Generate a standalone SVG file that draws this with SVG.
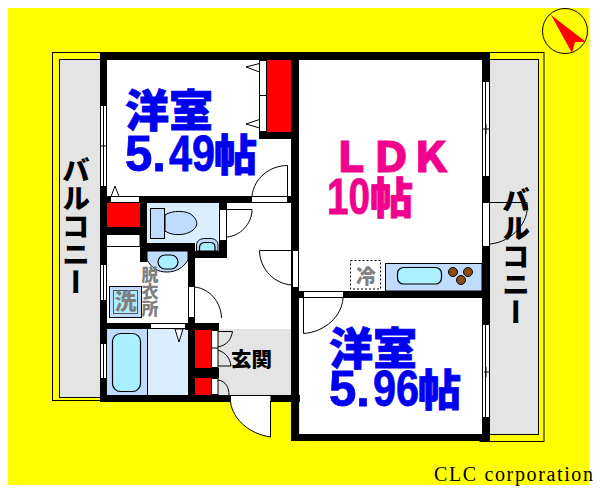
<svg xmlns="http://www.w3.org/2000/svg" width="600" height="493" viewBox="0 0 600 493">
<style>
.w{fill:#000}
.r{fill:#f00}
.l{fill:none;stroke:#000;stroke-width:1}
.wh{fill:#fff;stroke:#000;stroke-width:1}
.win{fill:#fff;stroke:#000;stroke-width:1}
.b1{fill:#bfdcff;stroke:#000;stroke-width:1}
.b2{fill:#aaf0ff;stroke:#000;stroke-width:1.2}
.t{font-family:"Noto Sans CJK JP","Noto Sans",sans-serif;font-weight:900}
.n{font-family:"Liberation Sans",sans-serif;font-weight:700;font-size:50px}
.bl{fill:#0000f0;stroke:#0000f0;stroke-width:.8px}
.mg{fill:#f0008c;stroke:#f0008c;stroke-width:.8px}
.gr{fill:#808080}
.v{writing-mode:vertical-rl}
</style>
<rect width="600" height="493" fill="#fff"/>
<rect x="8" y="8" width="581" height="477" fill="#ff0"/>
<g id="balconies">
<rect x="52.500" y="52.500" width="60" height="348" fill="#ff0" stroke="#000"/>
<rect x="59.500" y="59.500" width="60" height="338" fill="#e4e4e4" stroke="#000"/>
<rect x="480" y="52.500" width="64" height="389" fill="#ff0" stroke="#000"/>
<rect x="480" y="59.500" width="58.500" height="375" fill="#e4e4e4" stroke="#000"/>
</g>
<g id="floors">
<rect x="100" y="52" width="390" height="349" fill="#fff"/>
<rect x="292" y="300" width="198" height="141" fill="#fff"/>
<rect x="100" y="396" width="200" height="46" fill="#ff0"/>
<rect x="147" y="203" width="73" height="40" fill="#daeeff"/>
<rect x="107" y="329" width="40" height="66" fill="#bfdcff"/>
<rect x="147" y="329" width="41" height="66" fill="#daeeff"/>
<rect x="218" y="329" width="74" height="66" fill="#e4e4e4"/>
</g>
<g id="walls" class="w">
<rect x="100" y="52" width="390" height="8"/>
<rect x="100" y="52" width="7" height="349"/>
<rect x="291" y="52" width="8" height="389"/>
<rect x="482" y="52" width="8" height="389"/>
<rect x="292" y="434" width="198" height="7"/>
<rect x="100" y="395" width="200" height="7"/>
<rect x="140" y="196" width="151" height="7"/>
<rect x="100" y="196" width="10" height="7"/>
<rect x="259" y="132" width="32" height="7"/>
<rect x="100" y="227" width="47" height="8"/>
<rect x="140" y="196" width="7" height="66"/>
<rect x="140" y="243" width="55" height="8"/>
<rect x="219" y="203" width="8" height="55"/>
<rect x="188" y="251" width="39" height="7"/>
<rect x="188" y="251" width="7" height="144"/>
<rect x="100" y="323" width="50" height="6"/>
<rect x="185" y="323" width="34" height="7"/>
<rect x="195" y="368" width="24" height="10"/>
<rect x="292" y="291" width="190" height="7"/>
</g>
<g id="closets">
<rect class="r" x="267" y="60" width="24" height="72"/>
<rect class="r" x="107" y="203" width="33" height="24"/>
<rect class="r" x="195" y="330" width="16" height="38"/>
<rect class="r" x="195" y="378" width="16" height="17"/>
<rect class="wh" x="259.500" y="60.500" width="7" height="35"/>
<rect class="wh" x="259.500" y="95.500" width="7" height="36"/>
<path class="wh" d="M259.500 63.500L246 67L259.500 72ZM259.500 119.500L246 124L259.500 128Z"/>
<rect class="wh" x="110.500" y="196.500" width="29" height="6"/>
<path class="wh" d="M111 196.500L115 186L119 196.500Z"/>
<rect class="wh" x="211.500" y="330.500" width="6.500" height="37"/>
<rect class="wh" x="211.500" y="378.500" width="6.500" height="16"/>
<path class="l" d="M107 246.500H140V235M212 348H218"/>
</g>
<g id="windows">
<rect class="win" x="100.500" y="105.500" width="6" height="81"/>
<path class="l" d="M103.500 105V186M100 146H107M103.500 144V148"/>
<rect class="win" x="100.500" y="264.500" width="6" height="36"/>
<path class="l" d="M103.500 264V300"/>
<rect class="win" x="100.500" y="343.500" width="6" height="35"/>
<path class="l" d="M103.500 343V378"/>
<rect class="win" x="482.500" y="81.500" width="7" height="95"/>
<path class="l" d="M485.500 81V176M482 129H490M486 124V134"/>
<rect class="win" x="482.500" y="324.500" width="7" height="93"/>
<path class="l" d="M485.500 324V417M484 372H490M486 367V377"/>
</g>
<g id="doors">
<rect class="wh" x="251.500" y="196.500" width="36" height="6"/>
<path class="l" d="M287.500 196V165.500C270 165.500 254 178 252 196"/>
<rect class="wh" x="219.500" y="209.500" width="7" height="31"/>
<path class="l" d="M227 209.500H252C252 224 240 236 227 237"/>
<rect class="wh" x="292.500" y="250.500" width="6" height="37"/>
<path class="l" d="M292 250.500H259.500C260 270 275 284 292 285"/>
<rect class="wh" x="188.500" y="286.500" width="6" height="31"/>
<path class="l" d="M195 287C210 289 221 302 221.500 318"/>
<rect class="wh" x="150.500" y="323.500" width="35" height="5"/>
<path class="wh" d="M175 329L179 342L183 329Z"/>
<rect class="wh" x="303.500" y="291.500" width="40" height="6"/>
<path class="l" d="M303.500 298V333.500C325 332 342 316 343 298"/>
<rect class="wh" x="482.500" y="202.500" width="7" height="44"/>
<path class="l" d="M490 202.500H527C530 222 512 242 490 244"/>
<path class="wh" d="M230.500 395.500H271V401H270.500V437C250 434 233 420 230.500 402Z"/>
<path class="l" d="M218 331.500H232.500C231 340 227 345 218 347M218 350C226 353 230 358 231 366H218M218 380C226 381 229 388 229 395"/>
</g>
<g id="toilet">
<rect class="b1" x="150.500" y="208.500" width="14" height="30"/>
<path class="b1" d="M165 215C172 210 188 210 193 216C198 221 198 226 193 230C186 236 172 236 165 231Z"/>
<path class="b1" d="M196.500 251V245C197 240 201 238.500 205 238.500H210C215 238.500 218 241 218 245V251Z"/>
<path class="b2" d="M199.500 251V247C200 244 202 242.500 205 242.500H210C213 242.500 215 244 215 247V251Z"/>
</g>
<g id="washroom">
<path class="b1" d="M147 251H188V260C183 268 176 272 167 272C157 272 152 268 147 260Z"/>
<rect class="b2" x="158" y="255" width="20" height="14" rx="7"/>
<rect x="109.500" y="286.500" width="32" height="31" fill="#bfdcff" stroke="#000"/>
<rect x="113.500" y="290.500" width="24" height="23" fill="#aaf0ff" stroke="#555"/>
<text class="t gr" x="114.500" y="309" font-size="22">洗</text>
<text class="t gr v" x="150" y="266" font-size="17">脱衣所</text>
</g>
<g id="bath">
<path class="l" d="M147.500 329V395"/>
<rect class="b2" x="112.500" y="333.500" width="28" height="58" rx="8"/>
</g>
<g id="kitchen">
<rect x="385.500" y="263.500" width="96.500" height="27.500" fill="#bfdcff" stroke="#000"/>
<rect class="b2" x="397.500" y="267.500" width="44" height="16.500" rx="6"/>
<circle cx="453" cy="272" r="4.500" fill="#8b4a10" stroke="#000"/>
<circle cx="468" cy="272" r="4.500" fill="#8b4a10" stroke="#000"/>
<circle cx="461" cy="280" r="4.500" fill="#8b4a10" stroke="#000"/>
<rect x="350.500" y="260.500" width="30" height="28.500" fill="#fff" stroke="#000" stroke-dasharray="2 2"/>
<text class="t gr" x="356" y="284" font-size="20">冷</text>
</g>
<g id="compass">
<circle cx="565" cy="31" r="22.500" fill="#ff0" stroke="#000"/>
<path d="M551 15L586 42L575 42L572 53Z" fill="#f00"/>
</g>
<g id="labels">
<text class="t bl" x="125" y="127" font-size="44">洋室</text>
<text class="n bl" x="125" y="171" textLength="41" lengthAdjust="spacingAndGlyphs">5.</text>
<text class="n bl" x="169" y="171" textLength="46" lengthAdjust="spacingAndGlyphs">49</text>
<text class="t bl" x="214" y="171" font-size="43">帖</text>
<text class="t mg" x="330" y="172" font-size="42" textLength="122">ＬＤＫ</text>
<text class="n mg" x="327" y="214" textLength="43" lengthAdjust="spacingAndGlyphs">10</text>
<text class="t mg" x="370" y="214" font-size="43">帖</text>
<text class="t bl" x="329" y="365" font-size="44">洋室</text>
<text class="n bl" x="329" y="406" textLength="41" lengthAdjust="spacingAndGlyphs">5.</text>
<text class="n bl" x="373" y="406" textLength="46" lengthAdjust="spacingAndGlyphs">96</text>
<text class="t bl" x="418" y="406" font-size="43">帖</text>
<text class="t v" x="76" y="156" font-size="28">バルコニー</text>
<text class="t v" x="516" y="186" font-size="28">バルコニー</text>
<text class="t" x="231" y="367" font-size="20.500">玄関</text>
<text x="434" y="481" font-family="Liberation Serif,serif" font-size="20" textLength="159">CLC corporation</text>
</g>
</svg>
